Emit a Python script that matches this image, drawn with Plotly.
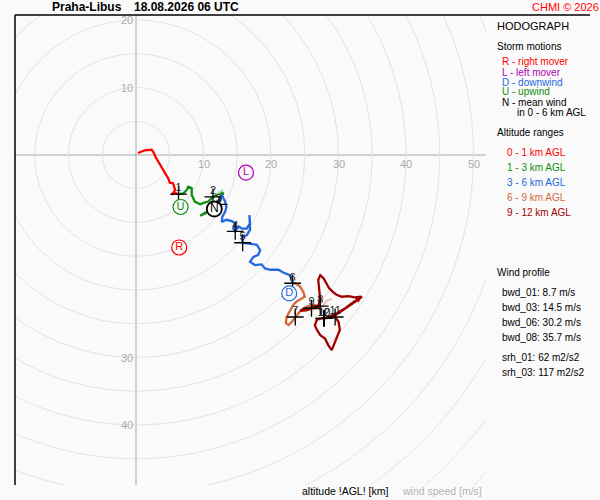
import plotly.graph_objects as go

# hodograph segments, wind components u/v in m/s
u_0_1 = [0.3, 1.3, 2.3, 2.6, 2.9, 3.3, 3.8, 4.3, 4.8, 5.0, 5.5, 5.8, 5.3, 5.6, 6.3]
v_0_1 = [0.3, 0.7, 0.8, 0.4, -0.3, -1.0, -1.7, -2.6, -3.5, -4.1, -4.2, -5.2, -5.9, -5.6, -5.8]

u_1_3 = [6.3, 7.0, 7.5, 7.75, 8.25, 8.25, 8.7, 9.5, 10.0, 10.7, 11.4, 12.0, 12.7, 12.9, 12.3, 11.6, 10.7, 9.5, 10.4, 11.4, 12.3]
v_1_3 = [-5.8, -5.7, -5.2, -4.7, -4.9, -5.9, -6.9, -7.3, -7.1, -6.9, -6.2, -5.9, -5.5, -5.7, -6.7, -7.6, -8.3, -9.0, -8.6, -8.0, -7.3]
u_1_3_pale = [12.0, 12.9]
v_1_3_pale = [-5.7, -5.2]

u_3_6 = [12.3, 12.7, 13.2, 13.4, 13.2, 12.8, 12.7, 13.4, 14.2, 14.7, 14.4, 14.7, 15.2, 15.7, 16.4, 16.9, 16.8, 16.9,
         16.4, 15.7, 15.8, 16.9, 17.9, 18.4, 18.1, 17.4, 16.9, 17.6, 18.6, 19.1, 19.9, 21.1, 21.8, 22.8, 23.1, 23.2]
v_3_6 = [-7.3, -5.9, -6.9, -7.7, -8.4, -9.1, -9.9, -9.6, -9.8, -10.1, -10.9, -11.3, -10.6, -10.9, -10.9, -10.1, -8.9, -11.1,
         -11.9, -12.1, -13.0, -13.1, -13.3, -14.1, -14.8, -15.1, -15.8, -16.3, -16.2, -16.8, -17.0, -17.0, -17.4, -17.8, -18.5, -19.0]

u_6_9 = [23.2, 23.6, 24.3, 24.8, 25.0, 24.6, 23.8, 23.3, 22.8, 22.3, 22.2, 22.6, 23.1, 23.6, 24.2, 24.7, 25.5, 26.4, 27.3, 26.7, 26.0]
v_6_9 = [-19.0, -19.0, -19.5, -20.3, -21.0, -21.2, -21.7, -22.2, -23.0, -24.0, -24.9, -25.2, -24.7, -24.0, -23.3, -22.8, -22.4, -22.2, -22.4, -22.7, -22.7]
u_6_9_pale = [27.4, 27.6, 28.3, 29.0]
v_6_9_pale = [-23.8, -22.4, -21.6, -21.3]

u_9_12 = [26.0, 25.0, 24.3, 25.2, 26.2, 27.0, 27.3, 27.1, 27.0, 27.3, 27.8, 28.2, 28.6, 29.2, 29.7, 30.5, 31.5, 32.4, 33.4,
          32.4, 31.4, 30.5, 29.6, 28.7, 27.9, 28.7, 29.5, 30.0, 30.2, 29.7, 29.2, 29.0, 28.5, 28.0, 27.3, 26.8, 26.5, 26.8,
          27.5, 27.8, 28.7, 29.8, 31.0, 32.2, 33.5]
v_9_12 = [-22.7, -22.8, -23.1, -23.0, -22.7, -22.4, -21.5, -20.0, -18.5, -17.8, -18.3, -19.0, -19.7, -20.3, -20.7, -21.0, -20.9, -21.1, -21.0,
          -21.8, -22.5, -23.1, -23.7, -24.0, -24.2, -24.1, -24.0, -24.7, -25.9, -27.2, -28.2, -28.9, -28.2, -27.2, -26.7, -25.9, -25.2, -24.4,
          -24.2, -24.2, -23.9, -23.4, -22.7, -21.8, -21.0]

# altitude marks [km]
km_u = [6.3, 11.4, 12.3, 14.7, 15.8, 23.2, 23.6, 27.3, 26.0, 27.9, 29.5, 27.8]
km_v = [-5.8, -6.2, -7.3, -11.3, -13.0, -19.0, -24.0, -22.4, -22.7, -24.2, -24.0, -24.2]
km_lbl = ["1", "2", "3", "4", "5", "6", "7", "8", "9", "10", "11", "12"]

# storm motions
sm_lbl = ["R", "L", "D", "U"]
sm_u = [6.4, 16.3, 22.7, 6.6]
sm_v = [-13.7, -2.6, -20.5, -7.7]
sm_col = ["#ff0000", "#b000b8", "#2468e0", "#109010"]
mean_u = [11.6]
mean_v = [-8.0]

rings = list(range(5, 75, 5))
xlab_vals = [-10, 10, 20, 30, 40, 50]
ylab_vals = [20, 10, -30, -40]

storm_lines = ["R - right mover", "L - left mover", "D - downwind", "U - upwind", "N - mean wind"]
alt_lines = ["0 - 1 km AGL", "1 - 3 km AGL", "3 - 6 km AGL", "6 - 9 km AGL", "9 - 12 km AGL"]
alt_col = ["#ff0000", "#109010", "#2468e0", "#d2693a", "#a00000"]
wind_lines = ["bwd_01: 8.7 m/s", "bwd_03: 14.5 m/s", "bwd_06: 30.2 m/s", "bwd_08: 35.7 m/s"]
srh_lines = ["srh_01: 62 m2/s2", "srh_03: 117 m2/s2"]

FONT = "Liberation Sans, Arial, sans-serif"
BG = "#fafafa"

# plot area in pixels: x 15..486, y 15..485
def px(x):
    return (x - 15) / 471.0

def py(y):
    return (485 - y) / 470.0

fig = go.Figure()

segs = [
    (u_0_1, v_0_1, "#ff0000"),
    (u_1_3, v_1_3, "#109010"),
    (u_1_3_pale, v_1_3_pale, "#b4dcb4"),
    (u_3_6, v_3_6, "#2468e0"),
    (u_6_9, v_6_9, "#d2693a"),
    (u_6_9_pale, v_6_9_pale, "#f2c6b6"),
    (u_9_12, v_9_12, "#a00000"),
]
for u, v, c in segs:
    fig.add_trace(go.Scatter(x=u, y=v, mode="lines", line=dict(color=c, width=2.3), hoverinfo="skip"))

fig.add_trace(go.Scatter(x=km_u, y=km_v, mode="markers",
                         marker=dict(symbol="cross-thin", size=12, line=dict(color="black", width=1.3))))
fig.add_trace(go.Scatter(x=km_u, y=km_v, mode="text", text=km_lbl, textposition="top center",
                         marker=dict(size=6),
                         textfont=dict(family=FONT, size=11, color="#222222")))

fig.add_trace(go.Scatter(x=sm_u, y=sm_v, mode="markers+text", text=sm_lbl, textposition="middle center",
                         marker=dict(size=15, color=BG, line=dict(color=sm_col, width=1.2)),
                         textfont=dict(family=FONT, size=11, color=sm_col)))
fig.add_trace(go.Scatter(x=mean_u, y=mean_v, mode="markers+text", text=["N"], textposition="middle center",
                         marker=dict(size=15, color="white", line=dict(color="black", width=1.8)),
                         textfont=dict(family=FONT, size=12, color="black")))

# end of profile arrow
fig.add_annotation(x=u_9_12[-1], y=v_9_12[-1], ax=u_9_12[-2], ay=v_9_12[-2], xref="x", yref="y",
                   axref="x", ayref="y", text="", showarrow=True, arrowhead=2, arrowsize=0.8,
                   arrowwidth=1.6, arrowcolor="#a00000")

shapes = []
for r in rings:
    shapes.append(dict(type="circle", xref="x", yref="y", x0=-r, y0=-r, x1=r, y1=r,
                       line=dict(color="#e2e2e2", width=1), layer="below"))
shapes.append(dict(type="line", xref="paper", yref="y", x0=0, x1=1, y0=0, y1=0,
                   line=dict(color="#a8a8a8", width=1), layer="below"))
shapes.append(dict(type="line", xref="x", yref="paper", x0=0, x1=0, y0=0, y1=1,
                   line=dict(color="#a8a8a8", width=1), layer="below"))
# frame
shapes.append(dict(type="line", xref="paper", yref="paper", x0=0, x1=0, y0=0, y1=1,
                   line=dict(color="black", width=1.5)))
shapes.append(dict(type="line", xref="paper", yref="paper", x0=0, x1=px(590), y0=1, y1=1,
                   line=dict(color="black", width=1.5)))

ann = []
for val in xlab_vals:
    ann.append(dict(x=val, y=0, xref="x", yref="y", text=str(abs(val)), showarrow=False, yshift=-9,
                    font=dict(family=FONT, size=11, color="#ababab")))
for val in ylab_vals:
    ann.append(dict(x=0, y=val, xref="x", yref="y", text=str(abs(val)), showarrow=False, xanchor="right",
                    xshift=-1, font=dict(family=FONT, size=11, color="#ababab")))

def label(x, y, text, color="black", size=10, bold=False):
    if bold:
        text = "<b>" + text + "</b>"
    ann.append(dict(x=px(x), y=py(y), xref="paper", yref="paper", text=text, showarrow=False,
                    xanchor="left", yanchor="middle", font=dict(family=FONT, size=size, color=color)))

label(50, 7, "Praha-Libus", size=12, bold=True)
label(132, 7, "18.08.2026 06 UTC", size=12, bold=True)
label(530, 7, "CHMI © 2026", color="#ff0000", size=11)
label(495, 26, "HODOGRAPH", size=11)
label(495, 47, "Storm motions")
for i, t in enumerate(storm_lines):
    c = sm_col[i] if i < 4 else "black"
    label(500, 62 + 10 * i, t, color=c)
label(515, 112, "in 0 - 6 km AGL")
label(495, 132, "Altitude ranges")
for i, t in enumerate(alt_lines):
    label(505, 152 + 15 * i, t, color=alt_col[i])
label(495, 272, "Wind profile")
for i, t in enumerate(wind_lines):
    label(500, 292 + 15 * i, t)
for i, t in enumerate(srh_lines):
    label(500, 357 + 15 * i, t)
label(300, 491, "altitude !AGL! [km]", size=10.5)
label(400, 491, "wind speed [m/s]", color="#b4b4b4", size=10.5)

fig.update_layout(
    width=600, height=500,
    margin=dict(l=15, r=114, t=15, b=15),
    paper_bgcolor=BG, plot_bgcolor=BG,
    showlegend=False,
    xaxis=dict(range=[(15 - 136) / 6.75, (486 - 136) / 6.75], showgrid=False, zeroline=False,
               showticklabels=False, fixedrange=True),
    yaxis=dict(range=[(155 - 485) / 6.75, (155 - 15) / 6.75], showgrid=False, zeroline=False,
               showticklabels=False, fixedrange=True),
    shapes=shapes,
    annotations=ann,
)

# page body has a default 8px margin; drop it so the figure sits at the corner
fig.write_html("out.html", config={"displayModeBar": False},
               post_script="document.body.style.margin='0';")
